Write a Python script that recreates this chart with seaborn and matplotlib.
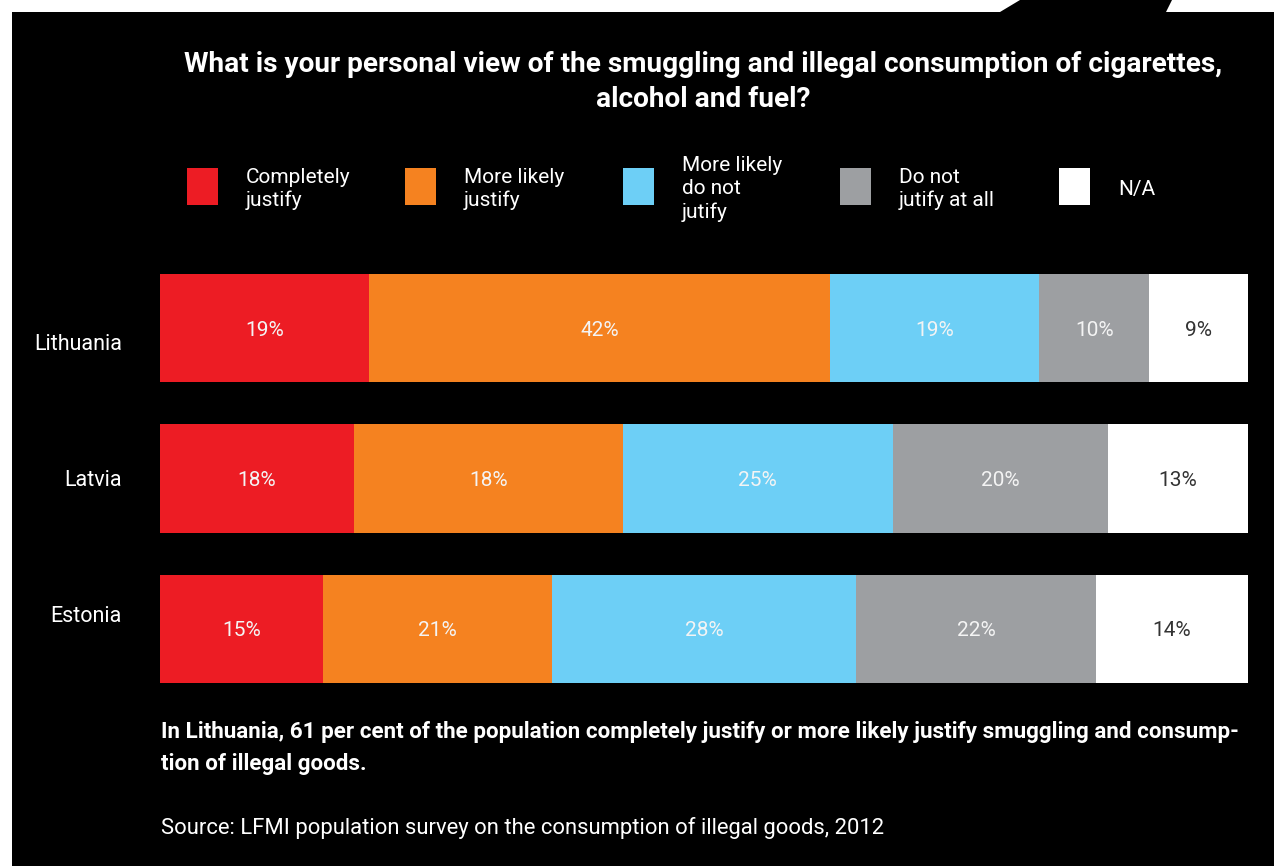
import numpy as np
import pandas as pd
import matplotlib.pyplot as plt
import seaborn as sns
from matplotlib.patches import Rectangle, Polygon

sns.set_theme(style="white")
plt.rcParams["font.family"] = ["Roboto", "DejaVu Sans"]

# ---------------- data ----------------
countries = ["Lithuania", "Latvia", "Estonia"]
categories = ["Completely\njustify", "More likely\njustify", "More likely\ndo not\njutify",
              "Do not\njutify at all", "N/A"]
colors = ["#ED1C24", "#F58220", "#6DCFF6", "#9D9FA2", "#FFFFFF"]

# segment lengths as drawn in the picture
lithuania = [19, 42, 19, 10, 9]
latvia = [18, 25, 25, 20, 13]
estonia = [15, 21, 28, 22, 14]
# printed labels (Latvia's second label says 18%)
lithuania_labels = ["19%", "42%", "19%", "10%", "9%"]
latvia_labels = ["18%", "18%", "25%", "20%", "13%"]
estonia_labels = ["15%", "21%", "28%", "22%", "14%"]

title = ("What is your personal view of the smuggling and illegal consumption of cigarettes,\n"
         "alcohol and fuel?")
note = ("In Lithuania, 61 per cent of the population completely justify or more likely justify smuggling and consump-\n"
        "tion of illegal goods.")
source = "Source: LFMI population survey on the consumption of illegal goods, 2012"

# ---------------- prep ----------------
rows = np.array([lithuania, latvia, estonia], dtype=float)
shares = rows / rows.sum(axis=1, keepdims=True) * 100
cum = np.cumsum(shares, axis=1)
labels = [lithuania_labels, latvia_labels, estonia_labels]

W, H = 1274, 866
fig = plt.figure(figsize=(W / 100, H / 100), dpi=100, facecolor="black")

# white frame bits (top strip with black tab, left strip)
fig.add_artist(Rectangle((0, 0), 12 / W, 1, transform=fig.transFigure, color="white", lw=0))
fig.add_artist(Polygon([(0, 1), (1020 / W, 1), (1000 / W, 1 - 12 / H), (0, 1 - 12 / H)],
                       closed=True, transform=fig.transFigure, color="white", lw=0))
fig.add_artist(Polygon([(1172 / W, 1), (1, 1), (1, 1 - 12 / H), (1166 / W, 1 - 12 / H)],
                       closed=True, transform=fig.transFigure, color="white", lw=0))

ax = fig.add_axes([160 / W, (H - 683) / H, 1088 / W, (683 - 274) / H])
ax.set_facecolor("black")

# layered cumulative bars, widest first so segments stack visually
for i in range(len(categories) - 1, -1, -1):
    df = pd.DataFrame({"country": countries, "value": cum[:, i]})
    sns.barplot(data=df, x="value", y="country", orient="h", color=colors[i],
                saturation=1, width=0.72, linewidth=0, ax=ax)

for r in range(len(countries)):
    for i in range(len(categories)):
        xc = cum[r, i] - shares[r, i] / 2
        tc = "#333333" if i == len(categories) - 1 else "#F4F4F4"
        ax.text(xc, r + 0.013, labels[r][i], ha="center", va="center", fontsize=15,
                color=tc)

ax.set_xlim(0, 100)
ax.set_ylim(2.36, -0.36)
ax.set_xlabel("")
ax.set_ylabel("")
ax.set_xticks([])
ax.set_yticks([])
sns.despine(ax=ax, left=True, bottom=True)

# country names
name_shift = [0.11, 0.01, -0.08]
for r, c in enumerate(countries):
    ax.text(-38 / 1088 * 100, r + name_shift[r], c, ha="right", va="center",
            fontsize=15.5, color="white")

# title
fig.text(703 / W, 1 - 82 / H, title, ha="center", va="center", fontsize=20.2,
         fontweight="bold", color="white", linespacing=1.38)

# legend
leg_x = [187, 405, 623, 840, 1059]
for x0, lab, col in zip(leg_x, categories, colors):
    fig.add_artist(Rectangle((x0 / W, 1 - 205 / H), 31 / W, 37 / H,
                             transform=fig.transFigure, color=col, lw=0))
    fig.text((x0 + 59) / W, 1 - 189 / H, lab, ha="left", va="center", fontsize=15,
             color="white", linespacing=1.28)

# notes
fig.text(161 / W, 1 - 748 / H, note, ha="left", va="center", fontsize=16.15,
         fontweight="bold", color="white", linespacing=1.6)
fig.text(161 / W, 1 - 828 / H, source, ha="left", va="center", fontsize=15.8,
         color="white")

fig.savefig("out.png", dpi=100, facecolor="black")
